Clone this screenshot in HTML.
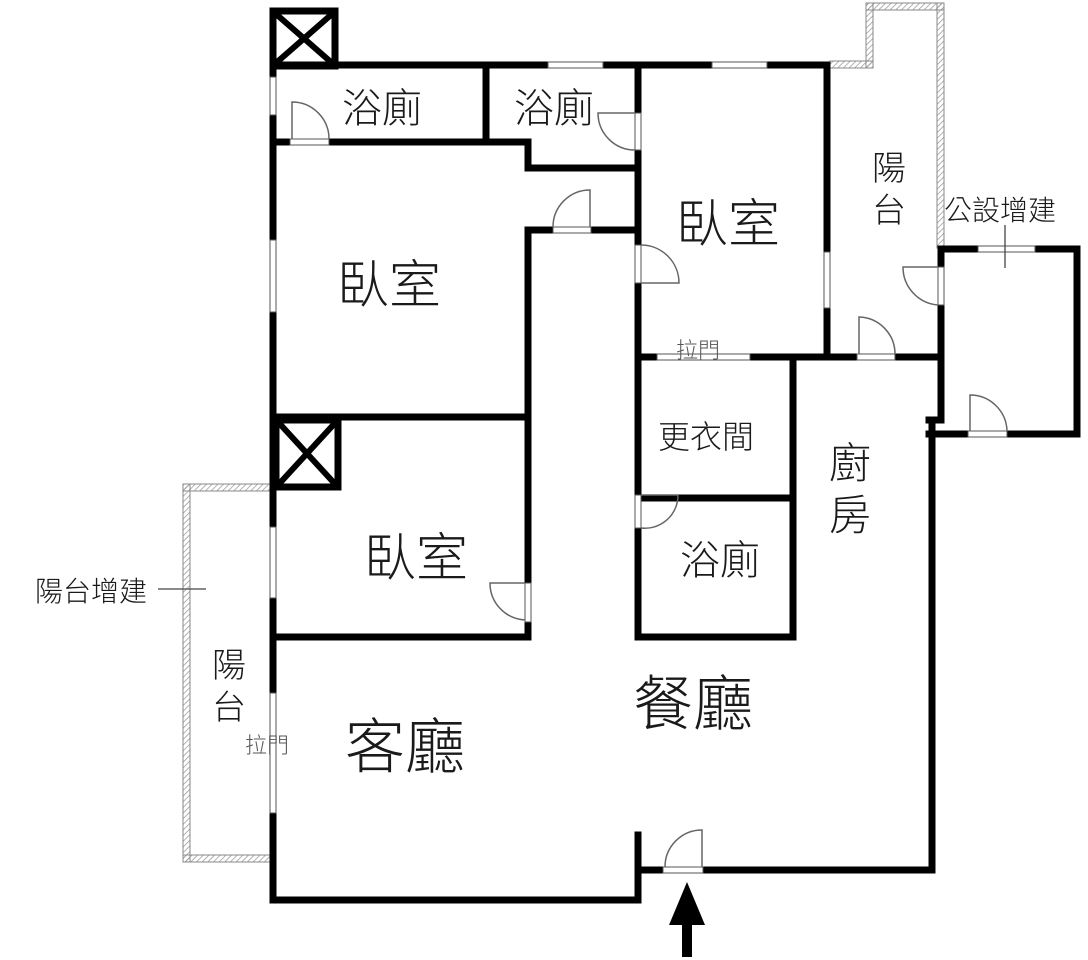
<!DOCTYPE html>
<html><head><meta charset="utf-8"><style>
html,body{margin:0;padding:0;background:#fff}
svg{display:block}
text{font-family:"Liberation Sans","Noto Sans CJK TC",sans-serif;fill:#1a1a1a;font-weight:300}
</style></head><body>
<svg width="1088" height="960" viewBox="0 0 1088 960" xmlns="http://www.w3.org/2000/svg">
<defs>
<pattern id="h" width="4" height="4" patternUnits="userSpaceOnUse" patternTransform="rotate(45)">
<line x1="0" y1="0" x2="0" y2="4" stroke="#999" stroke-width="1.5"/>
</pattern>
</defs>
<rect width="1088" height="960" fill="#fff"/>

<g fill="url(#h)" stroke="#888" stroke-width="1">
<rect x="866" y="3" width="78" height="7"/>
<rect x="866" y="3" width="7" height="65"/>
<rect x="830" y="61" width="43" height="7"/>
<rect x="937" y="3" width="7" height="245"/>
<rect x="183" y="484" width="90" height="7"/>
<rect x="183" y="484" width="7" height="378"/>
<rect x="183" y="855" width="90" height="7"/>
</g>

<g stroke="#000" stroke-width="7" fill="none" stroke-linecap="square">
<rect x="273" y="11" width="62" height="55"/>
<line x1="273" y1="65" x2="827" y2="65"/>
<line x1="273" y1="65" x2="273" y2="900"/>
<line x1="273" y1="142" x2="528" y2="142"/>
<line x1="486" y1="65" x2="486" y2="142"/>
<line x1="528" y1="142" x2="528" y2="168"/>
<line x1="528" y1="168" x2="638" y2="168"/>
<line x1="528" y1="230" x2="638" y2="230"/>
<line x1="528" y1="230" x2="528" y2="637"/>
<line x1="273" y1="417" x2="528" y2="417"/>
<rect x="276" y="420" width="62" height="67"/>
<line x1="273" y1="637" x2="528" y2="637"/>
<line x1="638" y1="65" x2="638" y2="637"/>
<line x1="827" y1="65" x2="827" y2="357"/>
<line x1="638" y1="357" x2="941" y2="357"/>
<line x1="793" y1="357" x2="793" y2="637"/>
<line x1="638" y1="498" x2="793" y2="498"/>
<line x1="638" y1="637" x2="793" y2="637"/>
<line x1="941" y1="249" x2="941" y2="420"/>
<line x1="941" y1="249" x2="1077" y2="249"/>
<line x1="1077" y1="249" x2="1077" y2="434"/>
<line x1="929" y1="434" x2="1077" y2="434"/>
<line x1="929" y1="420" x2="941" y2="420"/>
<line x1="932" y1="420" x2="932" y2="870"/>
<line x1="273" y1="900" x2="638" y2="900"/>
<line x1="638" y1="835" x2="638" y2="900"/>
<line x1="638" y1="870" x2="932" y2="870"/>
</g>
<g stroke="#000" stroke-width="6">
<line x1="276" y1="14" x2="332" y2="63"/><line x1="332" y1="14" x2="276" y2="63"/>
<line x1="279" y1="423" x2="335" y2="484"/><line x1="335" y1="423" x2="279" y2="484"/>
</g>

<g fill="#fff" stroke="#555" stroke-width="1">
<rect x="548" y="62" width="55" height="6"/>
<rect x="712" y="62" width="55" height="6"/>
<rect x="270" y="77" width="6" height="38"/>
<rect x="270" y="240" width="6" height="72"/>
<rect x="270" y="527" width="6" height="71"/>
<rect x="270" y="693" width="6" height="120"/>
<rect x="290" y="139" width="39" height="6"/>
<rect x="635" y="113" width="6" height="37"/>
<rect x="553" y="227" width="38" height="6"/>
<rect x="525" y="583" width="6" height="39"/>
<rect x="635" y="245" width="6" height="38"/>
<rect x="824" y="252" width="6" height="56"/>
<rect x="657" y="354" width="93" height="6"/>
<rect x="857" y="354" width="38" height="6"/>
<rect x="938" y="267" width="6" height="38"/>
<rect x="978" y="246" width="57" height="6"/>
<rect x="968" y="431" width="39" height="6"/>
<rect x="635" y="495" width="6" height="33"/>
<rect x="663" y="867" width="40" height="6"/>
</g>

<g fill="none" stroke="#666" stroke-width="1.5">
<path d="M292 139 V102 A37 37 0 0 1 329 139"/>
<path d="M635 113 H598 A37 37 0 0 0 635 150"/>
<path d="M590 227 V190 A37 37 0 0 0 553 227"/>
<path d="M525 583 H490 A37 37 0 0 0 525 620"/>
<path d="M641 245 A38 38 0 0 1 679 283 H641"/>
<path d="M859 354 V317 A37 37 0 0 1 895 354"/>
<path d="M938 267 H903 A38 38 0 0 0 938 305"/>
<path d="M970 431 V395 A37 37 0 0 1 1007 431"/>
<path d="M641 495 H678 A33 33 0 0 1 641 528"/>
<path d="M702 867 V830 A37 37 0 0 0 665 867"/>
</g>
<g stroke="#444" stroke-width="1.3">
<line x1="158" y1="589" x2="206" y2="589"/>
<line x1="1005" y1="225" x2="1005" y2="268"/>
</g>

<polygon points="687,882 669,925 705,925" fill="#000"/>
<rect x="682" y="922" width="10" height="35" fill="#000"/>

<g font-size="40">
<text x="342" y="122">浴廁</text>
<text x="514" y="122">浴廁</text>
<text x="680" y="574">浴廁</text>
</g>
<g font-size="52">
<text x="337" y="303">臥室</text>
<text x="364" y="576">臥室</text>
<text x="676" y="242">臥室</text>
</g>
<text x="658" y="448" font-size="32">更衣間</text>
<g font-size="42">
<text x="829" y="478">廚</text>
<text x="829" y="530">房</text>
</g>
<g font-size="34">
<text x="872" y="180">陽</text>
<text x="872" y="222">台</text>
<text x="212" y="677">陽</text>
<text x="212" y="719">台</text>
</g>
<g font-size="60">
<text x="345" y="768">客廳</text>
<text x="633" y="725">餐廳</text>
</g>
<text x="944" y="220" font-size="28">公設增建</text>
<text x="35" y="601" font-size="28">陽台增建</text>
<g font-size="22">
<text x="245" y="753" style="fill:#555">拉門</text>
<text x="676" y="358" style="fill:#555">拉門</text>
</g>
</svg>
</body></html>
